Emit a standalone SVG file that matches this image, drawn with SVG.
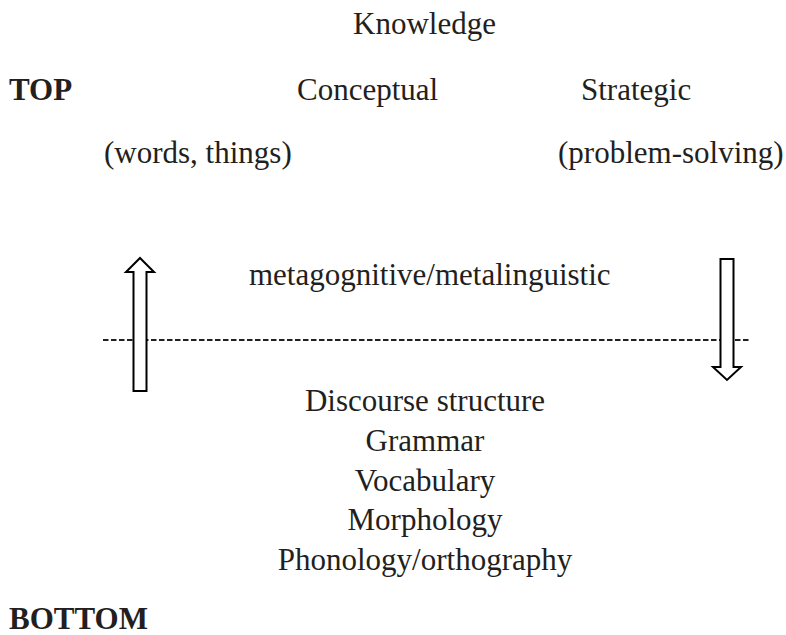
<svg xmlns="http://www.w3.org/2000/svg" width="786" height="635" viewBox="0 0 786 635">
<style>
  text { font-family: "Liberation Serif", "Times New Roman", serif; font-size: 31px; fill: #231f20; }
  .b { font-weight: bold; }
  .c { text-anchor: middle; }
  .arrow { fill: #ffffff; stroke: #000000; stroke-width: 2; stroke-linejoin: miter; }
  .dash { stroke: #231f20; stroke-width: 2; stroke-dasharray: 5.5 2.5; fill: none; }
</style>
<rect width="786" height="635" fill="#ffffff"/>
<g id="labels">
  <text id="knowledge" x="353" y="34">Knowledge</text>
  <text id="top" class="b" x="9" y="100">TOP</text>
  <text id="conceptual" x="297" y="100">Conceptual</text>
  <text id="strategic" x="581" y="100">Strategic</text>
  <text id="words" x="104" y="163">(words, things)</text>
  <text id="problem" x="558" y="163">(problem-solving)</text>
  <text id="meta" x="249" y="285">metagognitive/metalinguistic</text>
  <text id="bottom" class="b" x="9" y="629">BOTTOM</text>
</g>
<g id="connectors">
  <line class="dash" x1="103" y1="340" x2="749" y2="340"/>
  <polygon id="up-arrow" class="arrow" points="140,258 154,272 146.5,272 146.5,391 133.5,391 133.5,272 126,272"/>
  <polygon id="down-arrow" class="arrow" points="720.5,259 733.5,259 733.5,367 741,367 727,380 713,367 720.5,367"/>
</g>
<g id="levels">
  <text class="c" x="425" y="411">Discourse structure</text>
  <text class="c" x="425" y="451">Grammar</text>
  <text class="c" x="425" y="491">Vocabulary</text>
  <text class="c" x="425" y="530">Morphology</text>
  <text class="c" x="425" y="570">Phonology/orthography</text>
</g>
</svg>
